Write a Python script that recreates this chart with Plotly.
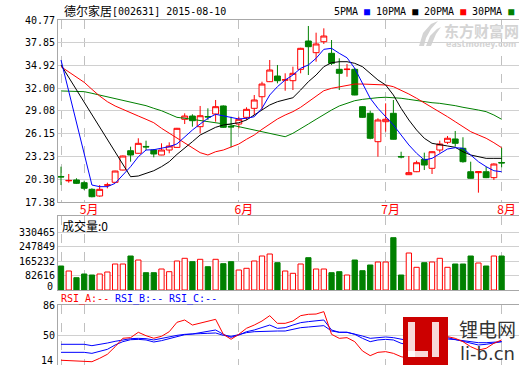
import plotly.graph_objects as go

# ---------------- data ----------------
days = list(range(58))
month_ticks = [0, 3, 23, 42, 57]
month_labels = ["", "5月", "6月", "7月", "8月"]
price_ticks = [17.38, 20.30, 23.23, 26.15, 29.08, 32.00, 34.92, 37.85, 40.77]
vol_ticks = [82616, 165232, 247849, 330465]
rsi_ticks = [50, 86]

opens = [20.66, 20.10, 20.21, 19.86, 19.01, 18.15, 19.54, 19.91, 21.49, 23.97,
         23.64, 24.52, 24.06, 23.42, 24.06, 24.40, 28.01, 28.43, 27.06, 28.37,
         28.69, 29.72, 27.09, 27.40, 28.26, 29.42, 30.91, 32.84, 33.57, 33.04,
         32.97, 34.43, 38.07, 36.57, 37.98, 36.49, 34.43, 34.40, 34.43, 29.63,
         28.78, 25.13, 27.70, 28.78, 23.23, 20.89, 21.27, 22.86, 21.71, 24.06,
         25.05, 25.48, 24.28, 21.27, 21.15, 21.27, 20.51, 22.46]
closes = [20.60, 20.15, 19.78, 19.14, 18.06, 19.01, 19.58, 21.36, 23.29, 23.42,
          24.92, 24.46, 23.55, 24.06, 24.58, 26.85, 28.43, 27.83, 28.47, 28.31,
          29.63, 26.98, 27.03, 28.01, 29.29, 30.49, 32.54, 34.34, 32.97, 33.09,
          33.92, 37.13, 37.34, 37.69, 38.71, 35.20, 33.92, 34.45, 31.13, 28.26,
          25.57, 27.92, 28.01, 25.44, 23.17, 21.15, 22.43, 22.13, 23.84, 24.83,
          25.57, 24.92, 22.56, 20.43, 21.27, 20.51, 22.26, 22.40]
highs = [21.92, 20.98, 20.43, 20.12, 19.14, 19.56, 19.86, 21.40, 23.35, 24.49,
         25.57, 25.26, 24.19, 24.92, 25.05, 26.90, 28.78, 28.65, 29.72, 29.42,
         30.49, 29.80, 28.34, 28.34, 29.55, 31.13, 32.84, 35.63, 34.99, 33.92,
         34.77, 37.20, 40.00, 39.14, 39.70, 38.20, 35.85, 35.11, 34.60, 29.70,
         29.11, 28.14, 30.06, 30.49, 23.84, 23.29, 22.69, 23.72, 23.90, 25.26,
         25.86, 26.51, 25.70, 22.56, 21.30, 21.92, 22.35, 24.36]
lows = [19.56, 19.86, 19.69, 18.92, 17.98, 18.06, 19.14, 19.85, 21.45, 22.56,
        23.60, 24.06, 23.12, 23.40, 23.64, 24.35, 27.40, 27.06, 26.21, 27.92,
        27.70, 26.90, 24.40, 26.85, 27.92, 28.56, 29.20, 32.80, 32.63, 31.68,
        31.77, 33.92, 33.70, 35.41, 37.69, 34.99, 31.77, 33.48, 31.10, 28.20,
        25.44, 23.20, 26.42, 25.40, 22.99, 20.85, 21.22, 21.49, 20.98, 23.72,
        24.83, 24.49, 22.43, 20.40, 18.58, 20.45, 20.21, 21.84]

ma5 = [35.63, 31.61, 27.57, 23.42, 19.56, 19.35, 19.35, 19.78, 20.85, 21.92,
       23.20, 24.06, 24.10, 24.28, 24.49, 24.85, 25.77, 26.63, 27.40, 28.14,
       28.65, 28.47, 28.22, 28.05, 28.14, 28.34, 29.42, 31.13, 32.20, 33.06,
       33.70, 34.56, 34.99, 35.85, 37.00, 37.13, 36.49, 35.92, 34.56, 32.63,
       30.71, 29.42, 28.34, 27.28, 25.99, 24.71, 23.64, 22.78, 22.99, 23.64,
       24.19, 24.36, 24.28, 23.42, 22.56, 21.92, 21.40, 21.27]
ma10 = [34.99, 33.40, 31.86, 30.19, 28.65, 27.06, 25.48, 23.93, 22.26, 20.63,
        20.72, 21.07, 21.40, 21.92, 22.56, 23.50, 24.28, 25.13, 25.99, 26.54,
        26.98, 27.28, 27.40, 27.57, 27.92, 28.56, 29.20, 29.85, 30.27, 30.49,
        30.78, 31.77, 32.84, 33.70, 34.77, 35.28, 35.41, 35.41, 35.20, 34.77,
        33.92, 33.06, 32.42, 31.13, 29.42, 27.92, 26.63, 25.57, 24.92, 24.71,
        24.58, 24.41, 23.84, 23.42, 23.20, 22.99, 22.99, 22.99]
ma20 = [34.77, 34.13, 33.48, 32.76, 31.86, 31.00, 30.27, 29.72, 29.29, 28.91,
        28.43, 28.01, 27.57, 26.85, 26.21, 25.57, 24.92, 24.28, 23.72, 23.42,
        23.84, 24.06, 24.41, 24.83, 25.44, 25.99, 26.72, 27.40, 28.05, 28.56,
        28.99, 29.55, 30.27, 31.00, 31.68, 31.99, 32.20, 32.42, 32.54, 32.54,
        32.50, 32.48, 32.42, 32.20, 31.77, 31.26, 30.71, 30.14, 29.55, 28.99,
        28.34, 27.70, 27.06, 26.42, 25.99, 25.57, 25.00, 24.36]
ma30 = [31.65, 31.65, 31.60, 31.56, 31.35, 31.13, 30.91, 30.66, 30.49, 30.27,
        30.06, 29.76, 29.42, 29.11, 28.69, 28.26, 28.14, 28.01, 27.83, 27.70,
        27.57, 27.49, 27.28, 27.06, 26.85, 26.63, 26.42, 26.21, 25.99, 25.77,
        26.21, 26.85, 27.40, 28.01, 28.65, 29.20, 29.72, 30.06, 30.40, 30.57,
        30.71, 30.79, 30.84, 30.79, 30.71, 30.57, 30.40, 30.27, 30.14, 30.06,
        29.94, 29.76, 29.55, 29.33, 29.20, 28.99, 28.56, 28.01]

volume = [136750, 108260, 70090, 91170, 85470, 91170, 102560, 148150, 148150, 193730,
          170940, 98580, 98580, 119660, 104270, 165240, 180620, 161250, 174920, 132760,
          174920, 149860, 161250, 113960, 123650, 165240, 193730, 205130, 155560, 108260,
          95160, 148150, 184040, 119660, 119660, 98580, 104270, 85470, 170940, 109970,
          142450, 159540, 159540, 298010, 85470, 210830, 129350, 155560, 159540, 180620,
          129350, 148150, 148150, 193730, 153840, 136750, 193730, 193730]

rsi_a = [21.2, 20.7, 20.7, 20.3, 19.5, 23.5, 28.2, 37.1, 47.0, 47.7,
         54.0, 50.0, 47.0, 49.3, 54.7, 65.7, 68.4, 62.5, 64.9, 66.4,
         69.2, 51.6, 45.8, 51.6, 58.7, 62.5, 67.2, 73.5, 64.5, 64.5,
         67.2, 73.5, 75.1, 75.4, 78.2, 51.6, 46.9, 47.7, 43.0, 32.1,
         26.6, 30.5, 31.3, 29.3, 25.4, 23.5, 28.2, 30.5, 33.2, 43.0,
         48.9, 46.9, 43.0, 37.1, 33.2, 35.2, 41.1, 45.0]
rsi_b = [30.5, 30.5, 30.5, 30.5, 29.3, 32.1, 34.0, 39.1, 43.0, 45.3,
         45.7, 45.0, 42.6, 44.2, 46.5, 49.3, 51.2, 52.0, 53.6, 54.7,
         56.7, 51.6, 48.1, 50.8, 54.7, 56.7, 59.8, 62.5, 58.6, 59.4,
         62.5, 65.3, 66.5, 67.2, 68.4, 56.7, 54.0, 54.0, 51.6, 46.9,
         43.0, 45.0, 45.7, 45.0, 41.1, 39.1, 41.1, 43.0, 44.2, 46.9,
         47.7, 45.7, 43.0, 41.1, 39.1, 39.9, 41.9, 43.0]
rsi_c = [39.9, 39.9, 39.9, 39.9, 38.3, 39.5, 41.4, 43.4, 45.3, 46.5,
         46.9, 46.5, 45.0, 46.9, 48.9, 50.4, 51.6, 51.6, 52.4, 52.8,
         53.2, 50.4, 49.3, 51.2, 53.6, 54.7, 55.1, 55.9, 55.5, 55.5,
         57.5, 59.4, 60.2, 60.6, 61.8, 55.5, 54.0, 54.0, 52.0, 49.6,
         46.9, 48.1, 48.5, 47.7, 45.7, 44.2, 44.2, 44.6, 45.0, 45.7,
         46.1, 45.4, 44.2, 43.0, 41.8, 41.8, 42.6, 43.0]

# ---------------- style ----------------
RED, GREEN, BLUE, BLACK = "#ff0000", "#008000", "#0000ff", "#000000"
GRIDH, GRIDV, BORDER = "#d0d0d0", "#c0c0c0", "#a8a8a8"
WM = "#d4d4d4"
MONO = "DejaVu Sans Mono, Noto Sans CJK SC"
CJK = "Noto Sans CJK SC"

W, H = 520, 365
ML, MR, MT, MB = 58, 1, 20, 0
PW, PH = W - ML - MR, H - MT - MB


def fx(px):
    return (px - ML) / PW


def fy(py):
    return (H - MB - py) / PH


fig = go.Figure()

fig.add_trace(go.Candlestick(
    x=days, open=opens, high=highs, low=lows, close=closes,
    increasing=dict(line=dict(color=RED, width=1), fillcolor="white"),
    decreasing=dict(line=dict(color=GREEN, width=1), fillcolor=GREEN),
    whiskerwidth=0, xaxis="x", yaxis="y", showlegend=False, hoverinfo="skip"))

for series, col in [(ma30, GREEN), (ma20, RED), (ma10, BLACK), (ma5, BLUE)]:
    fig.add_trace(go.Scatter(x=days, y=series, mode="lines",
                             line=dict(color=col, width=1),
                             xaxis="x", yaxis="y", showlegend=False, hoverinfo="skip"))

up = [c > o for o, c in zip(opens, closes)]
fig.add_trace(go.Bar(
    x=days, y=volume, width=0.68,
    marker=dict(color=["white" if u else GREEN for u in up],
                line=dict(color=[RED if u else GREEN for u in up], width=1)),
    xaxis="x2", yaxis="y2", showlegend=False, hoverinfo="skip"))

for series, col in [(rsi_c, BLUE), (rsi_b, BLUE), (rsi_a, RED)]:
    fig.add_trace(go.Scatter(x=days, y=series, mode="lines",
                             line=dict(color=col, width=1),
                             xaxis="x3", yaxis="y3", showlegend=False, hoverinfo="skip"))

xcommon = dict(range=[-0.39, 59.25], tickvals=month_ticks, showgrid=True,
               gridcolor=GRIDV, griddash="dash", gridwidth=1, zeroline=False,
               showline=True, linecolor=BORDER, linewidth=1, ticks="",
               fixedrange=True, domain=[0, 1], automargin=False)
ycommon = dict(showgrid=True, gridcolor=GRIDH, gridwidth=1, zeroline=False,
               showline=True, linecolor=BORDER, linewidth=1, ticks="",
               tickfont=dict(family=MONO, size=10, color=BLACK), fixedrange=True,
               automargin=False)

fig.update_layout(
    width=W, height=H, margin=dict(l=ML, r=MR, t=MT, b=MB, autoexpand=False),
    paper_bgcolor="white", plot_bgcolor="white",
    boxgap=0.2, boxgroupgap=0.05,
    xaxis=dict(**xcommon, anchor="y", mirror=True, ticktext=month_labels,
               tickfont=dict(family=CJK, size=12, color=RED),
               ticklabelshift=5, ticklabelstandoff=-3,
               rangeslider=dict(visible=False)),
    xaxis2=dict(**xcommon, anchor="y2", mirror=True, showticklabels=False),
    xaxis3=dict(**xcommon, anchor="y3", side="top", showticklabels=False),
    yaxis=dict(**ycommon, domain=[fy(202), 1], range=[17.38, 40.77],
               tickvals=price_ticks, ticktext=[f"{v:.2f}" for v in price_ticks]),
    yaxis2=dict(**ycommon, domain=[fy(290), fy(216)], range=[0, 421628],
                tickvals=vol_ticks, ticktext=[str(v) for v in vol_ticks]),
    yaxis3=dict(**ycommon, domain=[0, fy(305)], range=[15.64, 86],
                tickvals=rsi_ticks, ticktext=[str(v) for v in rsi_ticks]),
)

ann = []
# watermark first (drawn underneath other texts)
ann.append(dict(x=fx(481), y=fy(30), xref="paper", yref="paper", text="<b>东方财富网</b>",
                showarrow=False, xanchor="center", yanchor="middle",
                font=dict(family=CJK, size=15, color=WM)))
ann.append(dict(x=fx(481), y=fy(44), xref="paper", yref="paper", text="<b>eastmoney.com</b>",
                showarrow=False, xanchor="center", yanchor="middle",
                font=dict(family="DejaVu Sans", size=8, color=WM)))
ann.append(dict(x=fx(62), y=fy(11), xref="paper", yref="paper", text="德尔家居",
                showarrow=False, xanchor="left", yanchor="middle",
                font=dict(family=CJK, size=12, color=BLACK)))
ann.append(dict(x=fx(110), y=fy(12), xref="paper", yref="paper",
                text="[002631] 2015-08-10", showarrow=False, xanchor="left",
                yanchor="middle", font=dict(family=MONO, size=10, color=BLACK)))
# MA legend: label text + coloured square
for px, label, col in [(332, "5PMA", BLUE), (374, "10PMA", BLACK),
                       (422, "20PMA", RED), (470, "30PMA", GREEN)]:
    ann.append(dict(x=fx(px), y=fy(12), xref="paper", yref="paper",
                    text=f"{label} <span style='color:{col}'>■</span>",
                    showarrow=False, xanchor="left", yanchor="middle",
                    font=dict(family=MONO, size=10, color=BLACK)))
ann.append(dict(x=fx(60), y=fy(225), xref="paper", yref="paper", text="成交量:0",
                showarrow=False, xanchor="left", yanchor="middle",
                font=dict(family=CJK, size=12, color=BLACK)))
ann.append(dict(x=0, y=0, xref="paper", yref="y2", text="0", xshift=-3, yshift=4,
                showarrow=False, xanchor="right", yanchor="middle",
                font=dict(family=MONO, size=10, color=BLACK)))
ann.append(dict(x=0, y=fy(360), xref="paper", yref="paper", text="14", xshift=-3,
                showarrow=False, xanchor="right", yanchor="middle",
                font=dict(family=MONO, size=10, color=BLACK)))
for px, txt, col in [(59, "RSI_A:--", RED), (113, "RSI_B:--", BLUE), (167, "RSI_C:--", BLUE)]:
    ann.append(dict(x=fx(px), y=fy(299), xref="paper", yref="paper", text=txt,
                    showarrow=False, xanchor="left", yanchor="middle",
                    font=dict(family=MONO, size=10, color=col)))
# li-b.cn logo text
ann.append(dict(x=fx(487), y=fy(328), xref="paper", yref="paper", text="锂电网",
                showarrow=False, xanchor="center", yanchor="middle",
                font=dict(family=CJK, size=19, color="#333333")))
ann.append(dict(x=fx(487), y=fy(353), xref="paper", yref="paper", text="li-b.cn",
                showarrow=False, xanchor="center", yanchor="middle",
                font=dict(family="DejaVu Sans", size=18, color="#333333")))
fig.update_layout(annotations=ann)


def pth(points):
    s = ""
    for cmd, px, py in points:
        s += f"{cmd} {fx(px):.4f},{fy(py):.4f} "
    return s + "Z"


shapes = []
# eastmoney swoosh (decorative watermark)
shapes.append(dict(type="path", xref="paper", yref="paper",
                   path=pth([("M", 419, 46), ("L", 423, 33), ("L", 431, 24),
                             ("L", 438, 21), ("L", 431, 29), ("L", 426, 38), ("L", 424, 46)]),
                   fillcolor=WM, line=dict(width=0), layer="below"))
shapes.append(dict(type="path", xref="paper", yref="paper",
                   path=pth([("M", 426, 46), ("L", 430, 36), ("L", 437, 29),
                             ("L", 441, 27), ("L", 436, 34), ("L", 431, 46)]),
                   fillcolor=WM, line=dict(width=0), layer="below"))
# li-b.cn logo
shapes.append(dict(type="rect", xref="paper", yref="paper", x0=fx(403), x1=fx(448),
                   y0=fy(365), y1=fy(317), fillcolor="#cc0000", line=dict(width=0),
                   layer="above"))
for (a, b, c, d) in [(408, 415, 322, 357), (408, 428, 351, 357), (432, 439, 322, 357)]:
    shapes.append(dict(type="rect", xref="paper", yref="paper", x0=fx(a), x1=fx(b),
                       y0=fy(d), y1=fy(c), fillcolor="white", opacity=0.85,
                       line=dict(width=0), layer="above"))
fig.update_layout(shapes=shapes)

fig.write_html("out.html", config={"displayModeBar": False},
               post_script="document.body.style.margin='0';document.body.style.overflow='hidden';")
